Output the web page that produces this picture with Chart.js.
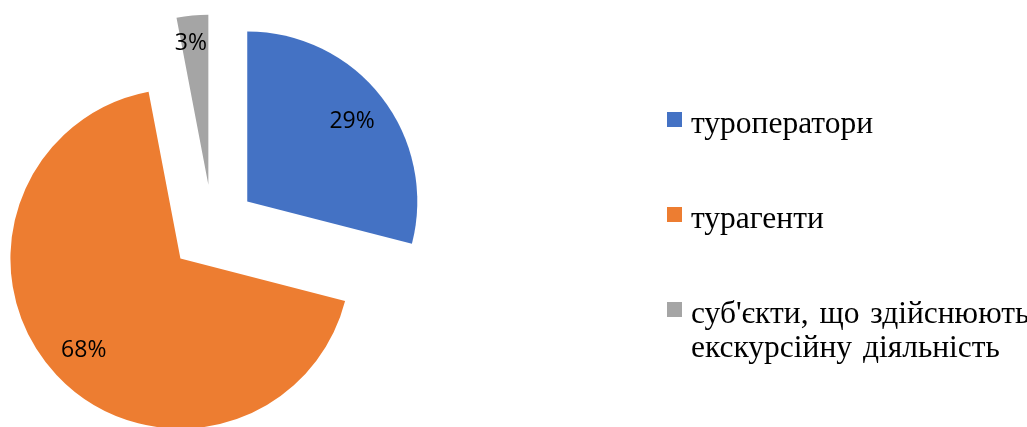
<!DOCTYPE html>
<html lang="uk">
<head>
<meta charset="utf-8">
<title>Структура суб'єктів туристичної діяльності</title>
<script src="https://cdn.jsdelivr.net/npm/chart.js@4/dist/chart.umd.min.js"></script>
<style>
    html, body {
        margin: 0;
        padding: 0;
        background: #ffffff;
    }
    .chart-wrap {
        position: relative;
        width: 1027px;
        height: 427px;
        overflow: hidden;
    }
    #pieChart {
        position: absolute;
        left: 0;
        top: 0;
    }
    .legend {
        position: absolute;
        left: 667px;
        top: 106px;
        font-family: "Liberation Serif", "Times New Roman", serif;
        font-size: 31.5px;
        line-height: 34px;
        color: #000000;
    }
    .legend-item {
        display: flex;
        align-items: flex-start;
        margin-bottom: 61px;
    }
    .legend-box {
        flex: 0 0 auto;
        width: 15px;
        height: 15px;
        margin-top: 6px;
        margin-right: 9px;
    }
    .legend-text {
        width: 345px;
        word-spacing: 3px;
    }
</style>
</head>
<body>
<div class="chart-wrap">
    <canvas id="pieChart" width="1027" height="427"></canvas>
    <div class="legend" id="legend"></div>
</div>
<script>
// -------------------------------------------------------------------------
// Data
// -------------------------------------------------------------------------
const categories = ['туроператори', 'турагенти', "суб'єкти, що здійснюють екскурсійну діяльність"];
const shares = [29, 68, 3];
const sliceColors = ['#4472C4', '#ED7D31', '#A5A5A5'];

// -------------------------------------------------------------------------
// Look
// -------------------------------------------------------------------------
const EXPLODE = 44;                 // px each slice is pulled out from the centre
const labelRatio = [0.78, 0.78, 0.84];
const labelNudgeX = [0, 0, -4];

// Draws every arc shifted outward along its mid angle (clean exploded pie)
const explodedSlices = {
    id: 'explodedSlices',
    beforeDatasetDraw(chart, args) {
        const ctx = chart.ctx;
        args.meta.data.forEach(arc => {
            const mid = (arc.startAngle + arc.endAngle) / 2;
            ctx.save();
            ctx.translate(Math.cos(mid) * EXPLODE, Math.sin(mid) * EXPLODE);
            arc.draw(ctx);
            ctx.restore();
        });
        return false;
    }
};

// Percent labels inside the slices
const sliceLabels = {
    id: 'sliceLabels',
    afterDatasetsDraw(chart) {
        const ctx = chart.ctx;
        const meta = chart.getDatasetMeta(0);
        const values = chart.data.datasets[0].data;
        ctx.save();
        ctx.font = '23px "Open Sans", sans-serif';
        ctx.fillStyle = '#000000';
        ctx.textAlign = 'center';
        ctx.textBaseline = 'middle';
        meta.data.forEach((arc, i) => {
            const mid = (arc.startAngle + arc.endAngle) / 2;
            const r = EXPLODE + arc.outerRadius * labelRatio[i];
            const x = arc.x + Math.cos(mid) * r + labelNudgeX[i];
            const y = arc.y + Math.sin(mid) * r + 1;
            ctx.fillText(values[i] + '%', x, y);
        });
        ctx.restore();
    }
};

document.addEventListener('DOMContentLoaded', () => {
    const canvas = document.getElementById('pieChart');

    new Chart(canvas, {
        type: 'pie',
        data: {
            labels: categories,
            datasets: [{
                data: shares,
                backgroundColor: sliceColors,
                borderWidth: 0
            }]
        },
        options: {
            responsive: false,
            animation: false,
            radius: 170,
            layout: {
                padding: { left: 0, right: 602, top: 30, bottom: 0 }
            },
            plugins: {
                legend: { display: false },
                tooltip: { enabled: false }
            }
        },
        plugins: [explodedSlices, sliceLabels]
    });

    // HTML legend, built from the same arrays
    const legend = document.getElementById('legend');
    categories.forEach((name, i) => {
        const item = document.createElement('div');
        item.className = 'legend-item';
        const box = document.createElement('span');
        box.className = 'legend-box';
        box.style.background = sliceColors[i];
        const text = document.createElement('span');
        text.className = 'legend-text';
        text.textContent = name;
        item.appendChild(box);
        item.appendChild(text);
        legend.appendChild(item);
    });
});
</script>
</body>
</html>
